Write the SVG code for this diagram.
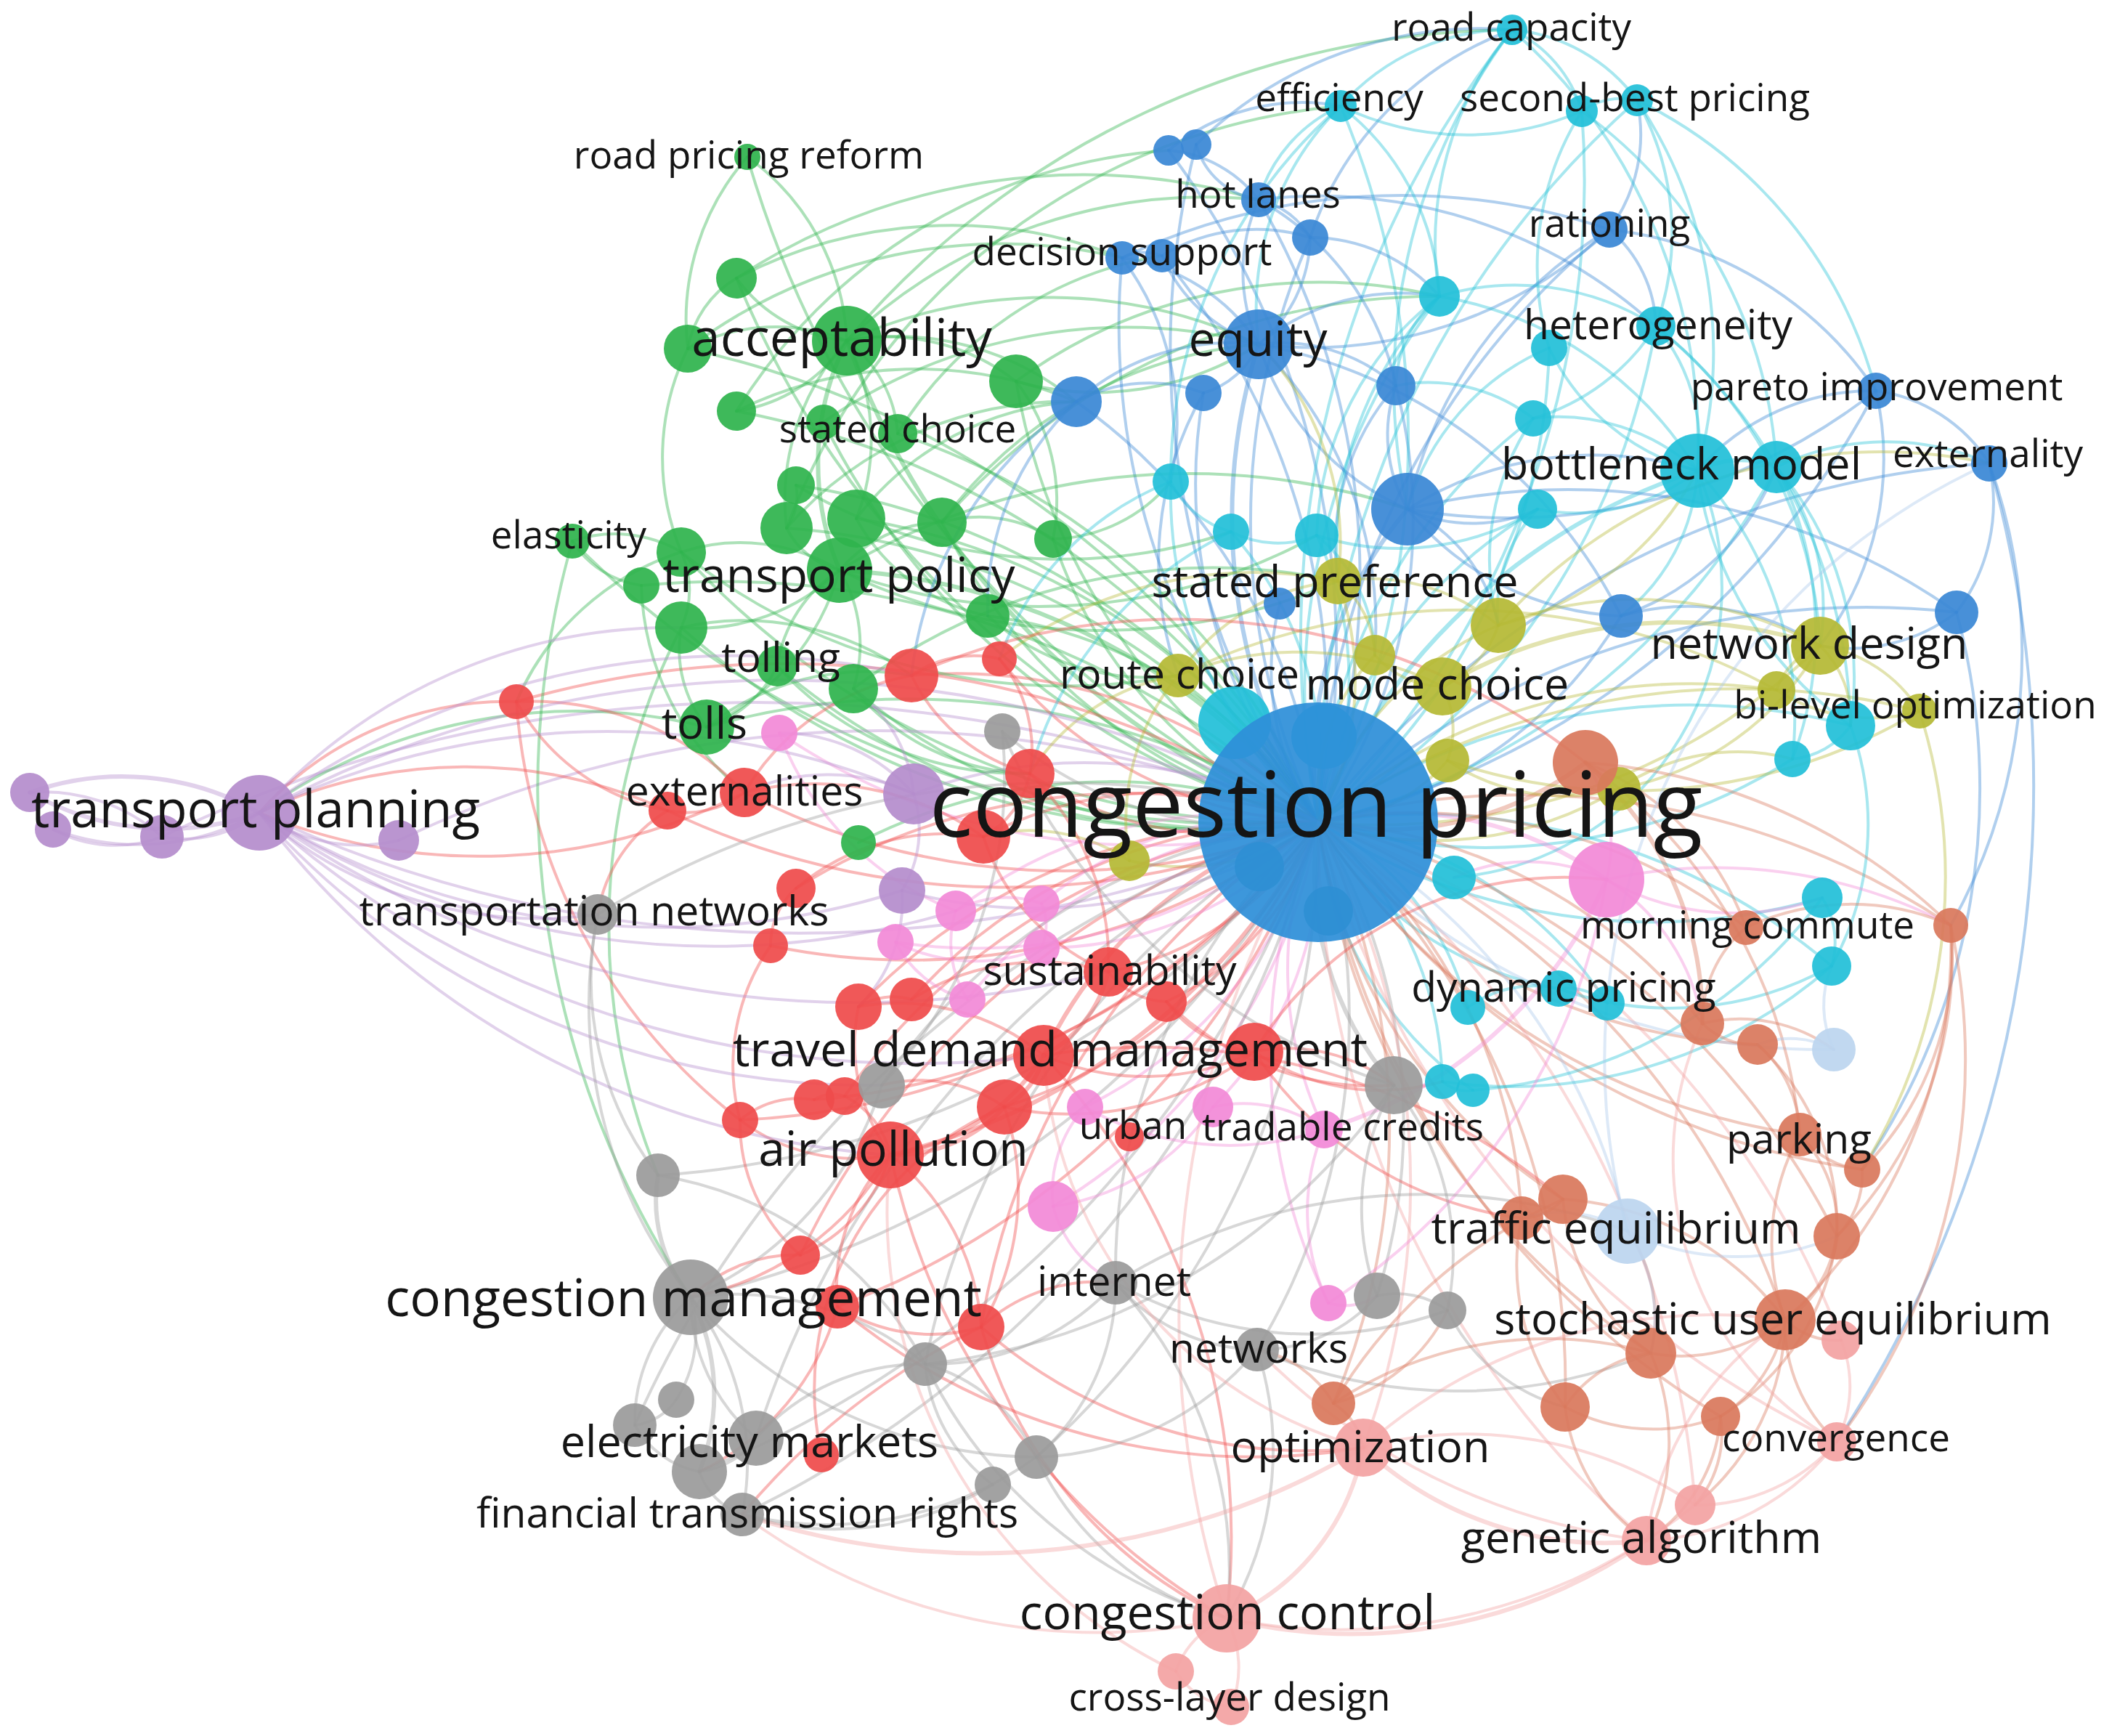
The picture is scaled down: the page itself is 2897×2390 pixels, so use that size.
<svg xmlns="http://www.w3.org/2000/svg" width="2897" height="2390" viewBox="0 0 2897 2390">
<style>
#edges path{fill:none;stroke-width:4;stroke-opacity:.4;stroke-linecap:round}
#edges path.w{stroke-width:6}
.eg{stroke:#2fb44d}.eb{stroke:#3a88d5}.ec{stroke:#25c2d8}.er{stroke:#ef4b4b}.ey{stroke:#b7ba36}.ep{stroke:#b58dcc}.ek{stroke:#f28ad7}.ea{stroke:#9b9b9b}.eo{stroke:#d9795d}.es{stroke:#f3a3a3}.el{stroke:#a9c8ea}
circle{fill-opacity:.93}
.c{fill:#22c0d8}.b{fill:#3a88d5}.g{fill:#2fb44d}.r{fill:#ef4b4b}.y{fill:#b5b935}.p{fill:#b58dcc}.k{fill:#f28ad7}.a{fill:#9b9b9b}.o{fill:#d9795d}.s{fill:#f3a3a3}.l{fill:#bcd5ef}.m{fill:#2e8fd8}.t{fill:#2a8f9a}
text{font-family:"Open Sans","Noto Sans","DejaVu Sans",sans-serif;fill:#151515;text-anchor:middle}
.t52{font-size:53px}.t57{font-size:57px}.t61{font-size:61px}.t66{font-size:66px}.t70{font-size:71px}.t125{font-size:125px}
</style>
<rect width="2897" height="2390" fill="#fff"/>
<g id="edges">
<!-- hub edges -->
<path class="eg w" d="M1815 1132A1110 1110 0 0 1 1166 469"/>
<path class="eg w" d="M1815 1132A890 890 0 0 0 1156 785"/>
<path class="eg" d="M1815 1132A1450 1450 0 0 1 1029 216"/>
<path class="eg" d="M1815 1132A1020 1020 0 0 0 973 1001"/>
<path class="eg" d="M1815 1132A880 880 0 0 1 1399 525"/>
<path class="eg" d="M1815 1132A910 910 0 0 0 1179 714"/>
<path class="eg" d="M1815 1132A930 930 0 0 1 1070 917"/>
<path class="eg" d="M1815 1132A1300 1300 0 0 0 947 480"/>
<path class="eg" d="M1815 1132A1320 1320 0 0 1 788 745"/>
<path class="eg" d="M1815 1132A640 640 0 0 0 1360 848"/>
<path class="eg" d="M1815 1132A790 790 0 0 1 1297 719"/>
<path class="eg" d="M1815 1132A640 640 0 0 1 1450 742"/>
<path class="eg" d="M1815 1132A950 950 0 0 0 1236 597"/>
<path class="eg" d="M1815 1132A1320 1320 0 0 1 1014 383"/>
<path class="eg" d="M1815 1132A800 800 0 0 1 1175 948"/>
<path class="eg" d="M1815 1132A1000 1000 0 0 0 1083 727"/>
<path class="eg" d="M1815 1132A1180 1180 0 0 0 1014 566"/>
<path class="eg" d="M1815 1132A1050 1050 0 0 1 1134 581"/>
<path class="eg" d="M1815 1132A1030 1030 0 0 0 1096 668"/>
<path class="eg" d="M1815 1132A1140 1140 0 0 1 938 760"/>
<path class="eg" d="M1815 1132A1180 1180 0 0 0 883 806"/>
<path class="eg" d="M1815 1132A1100 1100 0 0 1 938 864"/>
<path class="eg" d="M1815 1132A760 760 0 0 0 1182 1160"/>
<path class="eb w" d="M1815 1132A800 800 0 0 1 1733 474"/>
<path class="eb" d="M1815 1132A1030 1030 0 0 0 1733 275"/>
<path class="eb w" d="M1815 1132A540 540 0 0 1 1938 701"/>
<path class="eb" d="M1815 1132A800 800 0 0 0 1482 553"/>
<path class="eb" d="M1815 1132A1090 1090 0 0 1 2216 316"/>
<path class="eb" d="M1815 1132A1170 1170 0 0 0 2583 538"/>
<path class="eb" d="M1815 1132A1260 1260 0 0 1 2739 638"/>
<path class="eb" d="M1815 1132A600 600 0 0 0 2232 848"/>
<path class="eb" d="M1815 1132A1110 1110 0 0 1 2694 843"/>
<path class="eb" d="M1815 1132A990 990 0 0 1 1545 355"/>
<path class="eb" d="M1815 1132A1140 1140 0 0 0 1609 207"/>
<path class="eb" d="M1815 1132A730 730 0 0 0 1922 531"/>
<path class="eb" d="M1815 1132A970 970 0 0 1 1804 327"/>
<path class="eb" d="M1815 1132A730 730 0 0 1 1657 541"/>
<path class="eb" d="M1815 1132A1140 1140 0 0 1 1647 199"/>
<path class="eb" d="M1815 1132A970 970 0 0 0 1600 352"/>
<path class="eb" d="M1815 1132A370 370 0 0 1 1762 831"/>
<path class="ec w" d="M1815 1132A850 850 0 0 1 2337 648"/>
<path class="ec" d="M1815 1132A1350 1350 0 0 1 2082 41"/>
<path class="ec" d="M1815 1132A1180 1180 0 0 0 1846 146"/>
<path class="ec" d="M1815 1132A1250 1250 0 0 0 2178 153"/>
<path class="ec" d="M1815 1132A1300 1300 0 0 1 2254 138"/>
<path class="ec" d="M1815 1132A990 990 0 0 0 2280 449"/>
<path class="ec" d="M1815 1132A890 890 0 0 1 1982 408"/>
<path class="ec" d="M1815 1132A960 960 0 0 0 2446 643"/>
<path class="ec" d="M1815 1132A890 890 0 0 1 2548 999"/>
<path class="ec" d="M1815 1132A840 840 0 0 0 2509 1236"/>
<path class="ec" d="M1815 1132A880 880 0 0 1 2522 1330"/>
<path class="ec" d="M1815 1132A480 480 0 0 0 2146 1361"/>
<path class="ec" d="M1815 1132A790 790 0 0 0 2468 1045"/>
<path class="ec" d="M1815 1132A750 750 0 0 1 2111 576"/>
<path class="ec" d="M1815 1132A870 870 0 0 0 2133 479"/>
<path class="ec" d="M1815 1132A610 610 0 0 1 1612 663"/>
<path class="ec" d="M1815 1132A470 470 0 0 0 1813 737"/>
<path class="ec" d="M1815 1132A480 480 0 0 1 1986 1489"/>
<path class="ec" d="M1815 1132A630 630 0 0 1 2117 701"/>
<path class="ec" d="M1815 1132A560 560 0 0 1 2213 1381"/>
<path class="ec" d="M1815 1132A500 500 0 0 0 1695 732"/>
<path class="ec" d="M1815 1132A395 395 0 0 1 2021 1387"/>
<path class="ec" d="M1815 1132A510 510 0 0 0 2028 1501"/>
<path class="ey" d="M1815 1132A880 880 0 0 0 2506 889"/>
<path class="ey" d="M1815 1132A440 440 0 0 1 2063 861"/>
<path class="ey" d="M1815 1132A1010 1010 0 0 1 2643 979"/>
<path class="ey" d="M1815 1132A500 500 0 0 0 2229 1086"/>
<path class="ey" d="M1815 1132A790 790 0 0 1 2446 950"/>
<path class="ey" d="M1815 1132A400 400 0 0 0 1842 800"/>
<path class="ey" d="M1815 1132A290 290 0 0 1 1893 902"/>
<path class="ey" d="M1815 1132A240 240 0 0 0 1993 1047"/>
<path class="ey" d="M1815 1132A320 320 0 0 1 1555 1185"/>
<path class="er" d="M1815 1132A430 430 0 0 1 1526 1338"/>
<path class="er w" d="M1815 1132A600 600 0 0 0 1437 1453"/>
<path class="er w" d="M1815 1132A900 900 0 0 1 1226 1590"/>
<path class="er" d="M1815 1132A480 480 0 0 1 1418 1065"/>
<path class="er" d="M1815 1132A710 710 0 0 0 1255 930"/>
<path class="er" d="M1815 1132A700 700 0 0 1 1383 1524"/>
<path class="er" d="M1815 1132A1000 1000 0 0 0 1351 1827"/>
<path class="er" d="M1815 1132A950 950 0 0 1 1025 1091"/>
<path class="er" d="M1815 1132A1340 1340 0 0 0 711 966"/>
<path class="er" d="M1815 1132A590 590 0 0 1 1376 907"/>
<path class="er" d="M1815 1132A390 390 0 0 1 1606 1379"/>
<path class="er" d="M1815 1132A550 550 0 0 0 1354 1152"/>
<path class="er" d="M1815 1132A820 820 0 0 0 1182 1386"/>
<path class="er" d="M1815 1132A1080 1080 0 0 1 919 1116"/>
<path class="er" d="M1815 1132A870 870 0 0 0 1096 1223"/>
<path class="er" d="M1815 1132A930 930 0 0 1 1061 1302"/>
<path class="er" d="M1815 1132A730 730 0 0 0 1255 1376"/>
<path class="er" d="M1815 1132A950 950 0 0 1 1121 1514"/>
<path class="er" d="M1815 1132A900 900 0 0 0 1163 1509"/>
<path class="er" d="M1815 1132A1070 1070 0 0 1 1019 1542"/>
<path class="er" d="M1815 1132A1110 1110 0 0 0 1102 1728"/>
<path class="er" d="M1815 1132A1130 1130 0 0 1 1153 1799"/>
<path class="ep" d="M1815 1132A1750 1750 0 0 1 357 1119"/>
<path class="ep" d="M1815 1132A670 670 0 0 0 1258 1093"/>
<path class="ep" d="M1815 1132A700 700 0 0 1 1242 1226"/>
<path class="ep" d="M1815 1132A1520 1520 0 0 0 549 1157"/>
<path class="ep" d="M1815 1132A1900 1900 0 0 0 223 1152"/>
<path class="ek w" d="M1815 1132A490 490 0 0 1 2212 1211"/>
<path class="ek" d="M1815 1132A510 510 0 0 0 1823 1555"/>
<path class="ek" d="M1815 1132A770 770 0 0 1 1450 1661"/>
<path class="ek" d="M1815 1132A500 500 0 0 1 1670 1524"/>
<path class="ek" d="M1815 1132A620 620 0 0 0 1316 1254"/>
<path class="ek" d="M1815 1132A900 900 0 0 1 1073 1009"/>
<path class="ek" d="M1815 1132A480 480 0 0 0 1434 1244"/>
<path class="ek" d="M1815 1132A730 730 0 0 1 1233 1297"/>
<path class="ek" d="M1815 1132A500 500 0 0 1 1434 1305"/>
<path class="ek" d="M1815 1132A650 650 0 0 0 1332 1376"/>
<path class="ek" d="M1815 1132A610 610 0 0 1 1494 1524"/>
<path class="ek" d="M1815 1132A790 790 0 0 0 1829 1794"/>
<path class="ea" d="M1815 1132A1300 1300 0 0 1 951 1786"/>
<path class="ea w" d="M1815 1132A450 450 0 0 0 1919 1494"/>
<path class="ea" d="M1815 1132A830 830 0 0 0 1536 1766"/>
<path class="ea" d="M1815 1132A880 880 0 0 1 1731 1858"/>
<path class="ea" d="M1815 1132A1200 1200 0 0 0 823 1259"/>
<path class="ea" d="M1815 1132A790 790 0 0 1 1896 1784"/>
<path class="ea" d="M1815 1132A540 540 0 0 1 1380 1007"/>
<path class="ea" d="M1815 1132A840 840 0 0 0 1214 1494"/>
<path class="ea" d="M1815 1132A1240 1240 0 0 1 906 1618"/>
<path class="ea" d="M1815 1132A1100 1100 0 0 0 1274 1878"/>
<path class="ea" d="M1815 1132A1150 1150 0 0 1 1427 2006"/>
<path class="ea" d="M1815 1132A1500 1500 0 0 0 874 1962"/>
<path class="ea" d="M1815 1132A1490 1490 0 0 1 1022 2085"/>
<path class="ea" d="M1815 1132A1380 1380 0 0 0 1041 1980"/>
<path class="ea" d="M1815 1132A1480 1480 0 0 1 963 2026"/>
<path class="eo w" d="M1815 1132A450 450 0 0 0 2183 1050"/>
<path class="eo" d="M1815 1132A1130 1130 0 0 1 2458 1817"/>
<path class="eo" d="M1815 1132A950 950 0 0 0 2478 1562"/>
<path class="eo" d="M1815 1132A1100 1100 0 0 1 2529 1702"/>
<path class="eo" d="M1815 1132A1030 1030 0 0 0 2273 1863"/>
<path class="eo" d="M1815 1132A1060 1060 0 0 1 2686 1274"/>
<path class="eo" d="M1815 1132A740 740 0 0 0 2152 1651"/>
<path class="eo" d="M1815 1132A720 720 0 0 1 2344 1409"/>
<path class="eo" d="M1815 1132A1050 1050 0 0 1 2155 1937"/>
<path class="eo" d="M1815 1132A730 730 0 0 1 2404 1277"/>
<path class="eo" d="M1815 1132A810 810 0 0 0 2420 1438"/>
<path class="eo" d="M1815 1132A1070 1070 0 0 0 2564 1610"/>
<path class="eo" d="M1815 1132A740 740 0 0 1 2095 1677"/>
<path class="eo" d="M1815 1132A1180 1180 0 0 0 2369 1950"/>
<path class="eo" d="M1815 1132A960 960 0 0 1 1836 1932"/>
<path class="es" d="M1815 1132A1320 1320 0 0 0 1689 2228"/>
<path class="es" d="M1815 1132A1040 1040 0 0 1 1877 1993"/>
<path class="es" d="M1815 1132A1300 1300 0 0 0 2267 2121"/>
<path class="es" d="M1815 1132A1220 1220 0 0 1 2535 1845"/>
<path class="es" d="M1815 1132A1330 1330 0 0 0 2529 1985"/>
<path class="es" d="M1815 1132A1290 1290 0 0 1 2334 2072"/>
<path class="el" d="M1815 1132A850 850 0 0 1 2241 1695"/>
<path class="el" d="M1815 1132A930 930 0 0 0 2525 1445"/>
<!-- green -->
<path class="eg" d="M1166 469A210 210 0 0 1 1014 383"/>
<path class="eg" d="M1166 469A260 260 0 0 0 947 480"/>
<path class="eg" d="M1166 469A290 290 0 0 1 1399 525"/>
<path class="eg" d="M1166 469A220 220 0 0 1 1014 566"/>
<path class="eg" d="M1166 469A175 175 0 0 1 1236 597"/>
<path class="eg w" d="M1166 469A380 380 0 0 0 1156 785"/>
<path class="eg" d="M1166 469A295 295 0 0 1 1179 714"/>
<path class="eg" d="M1166 469A325 325 0 0 0 1083 727"/>
<path class="eg" d="M1156 785A110 110 0 0 1 1083 727"/>
<path class="eg" d="M1156 785A190 190 0 0 1 1297 719"/>
<path class="eg" d="M1156 785A265 265 0 0 0 938 760"/>
<path class="eg" d="M1156 785A280 280 0 0 1 938 864"/>
<path class="eg" d="M1156 785A190 190 0 0 0 1070 917"/>
<path class="eg" d="M1156 785A340 340 0 0 1 973 1001"/>
<path class="eg" d="M1156 785A200 200 0 0 1 1175 948"/>
<path class="eg" d="M947 480A340 340 0 0 0 938 760"/>
<path class="eg" d="M788 745A180 180 0 0 1 938 760"/>
<path class="eg" d="M788 745A135 135 0 0 0 883 806"/>
<path class="eg" d="M938 760A125 125 0 0 1 938 864"/>
<path class="eg" d="M938 864A170 170 0 0 0 973 1001"/>
<path class="eg" d="M1070 917A160 160 0 0 1 973 1001"/>
<path class="eg" d="M1029 216A330 330 0 0 1 1166 469"/>
<path class="eg" d="M1029 216A340 340 0 0 0 947 480"/>
<path class="eg" d="M1297 719A185 185 0 0 1 1450 742"/>
<path class="eg" d="M1179 714A270 270 0 0 0 1360 848"/>
<path class="eg" d="M1399 525A270 270 0 0 1 1450 742"/>
<path class="eg" d="M1014 383A140 140 0 0 0 947 480"/>
<path class="eg" d="M1096 668A75 75 0 0 1 1083 727"/>
<path class="eg" d="M1166 469A680 680 0 0 1 1733 474"/>
<path class="eg" d="M1399 525A410 410 0 0 0 1733 474"/>
<path class="eg" d="M1014 383A640 640 0 0 1 1545 355"/>
<path class="eg" d="M1166 469A720 720 0 0 1 1733 275"/>
<path class="eg" d="M1399 525A710 710 0 0 1 1982 408"/>
<path class="eg" d="M1156 785A940 940 0 0 1 1938 701"/>
<path class="eg" d="M1156 785A820 820 0 0 0 1842 800"/>
<path class="eg" d="M1166 469A390 390 0 0 1 1482 553"/>
<path class="eg" d="M938 864A900 900 0 0 0 906 1618"/>
<path class="eg" d="M788 745A1260 1260 0 0 0 951 1786"/>
<path class="eg" d="M973 1001A750 750 0 0 0 357 1119"/>
<path class="eg" d="M1166 469A1210 1210 0 0 1 2082 41"/>
<path class="eg" d="M947 480A720 720 0 0 1 1545 355"/>
<path class="eg" d="M938 760A370 370 0 0 0 711 966"/>
<path class="eg" d="M1014 566A760 760 0 0 1 1609 207"/>
<path class="eg" d="M1083 727A900 900 0 0 1 1846 146"/>
<path class="eg" d="M1179 714A410 410 0 0 1 1482 553"/>
<path class="eg" d="M1297 719A600 600 0 0 1 1733 474"/>
<path class="eg" d="M1450 742A215 215 0 0 0 1612 663"/>
<path class="eg" d="M1360 848A330 330 0 0 0 1622 930"/>
<path class="eg" d="M1175 948A820 820 0 0 1 1842 800"/>
<path class="eg" d="M1083 727A515 515 0 0 1 1482 553"/>
<path class="eg" d="M1236 597A525 525 0 0 1 1600 352"/>
<path class="eg" d="M1014 383A870 870 0 0 1 1733 275"/>
<path class="eg" d="M1096 668A720 720 0 0 0 1695 732"/>
<path class="eg" d="M1297 719A900 900 0 0 1 1982 408"/>
<path class="eg" d="M1156 785A790 790 0 0 0 1813 737"/>
<path class="eg" d="M938 760A850 850 0 0 0 1622 930"/>
<path class="eg" d="M938 864A390 390 0 0 1 1255 930"/>
<path class="eg" d="M1070 917A455 455 0 0 0 1418 1065"/>
<path class="eg" d="M973 1001A355 355 0 0 1 1255 930"/>
<path class="eg" d="M1175 948A325 325 0 0 0 1418 1065"/>
<path class="eg" d="M883 806A380 380 0 0 0 1025 1091"/>
<path class="eg" d="M1014 566A560 560 0 0 1 1482 553"/>
<path class="eg" d="M1134 581A730 730 0 0 1 1733 474"/>
<!-- blue -->
<path class="eb" d="M1733 474A240 240 0 0 1 1733 275"/>
<path class="eb" d="M1733 474A270 270 0 0 0 1545 355"/>
<path class="eb" d="M1733 474A220 220 0 0 1 1600 352"/>
<path class="eb" d="M1733 474A195 195 0 0 0 1804 327"/>
<path class="eb" d="M1733 474A120 120 0 0 1 1657 541"/>
<path class="eb" d="M1733 474A370 370 0 0 0 1938 701"/>
<path class="eb" d="M1733 474A240 240 0 0 1 1922 531"/>
<path class="eb" d="M1733 474A320 320 0 0 0 1482 553"/>
<path class="eb" d="M1609 207A175 175 0 0 1 1733 275"/>
<path class="eb" d="M1647 199A105 105 0 0 0 1733 275"/>
<path class="eb" d="M1733 275A110 110 0 0 1 1804 327"/>
<path class="eb" d="M1545 355A66 66 0 0 1 1600 352"/>
<path class="eb" d="M2216 316A600 600 0 0 0 1938 701"/>
<path class="eb" d="M2216 316A600 600 0 0 1 1733 474"/>
<path class="eb" d="M2583 538A820 820 0 0 1 1938 701"/>
<path class="eb" d="M2583 538A220 220 0 0 1 2739 638"/>
<path class="eb" d="M2739 638A250 250 0 0 1 2694 843"/>
<path class="eb" d="M2694 843A930 930 0 0 0 1938 701"/>
<path class="eb" d="M2232 848A400 400 0 0 1 1938 701"/>
<path class="eb" d="M1938 701A205 205 0 0 1 1922 531"/>
<path class="eb" d="M1938 701A480 480 0 0 1 2337 648"/>
<path class="eb" d="M2583 538A320 320 0 0 0 2337 648"/>
<path class="eb" d="M1609 207A290 290 0 0 1 1846 146"/>
<path class="eb" d="M2216 316A180 180 0 0 1 2280 449"/>
<path class="eb" d="M2739 638A770 770 0 0 1 2686 1274"/>
<path class="eb" d="M2739 638A1640 1640 0 0 1 2529 1985"/>
<path class="eb" d="M2694 843A930 930 0 0 1 2564 1610"/>
<path class="eb" d="M2583 538A510 510 0 0 0 2216 316"/>
<path class="eb" d="M1647 199A560 560 0 0 1 2082 41"/>
<path class="eb" d="M1804 327A460 460 0 0 1 2082 41"/>
<path class="eb" d="M1600 352A250 250 0 0 1 1804 327"/>
<path class="eb" d="M1482 553A210 210 0 0 1 1657 541"/>
<path class="eb" d="M2216 316A220 220 0 0 0 2254 138"/>
<path class="eb" d="M1733 275A690 690 0 0 1 2280 449"/>
<path class="eb" d="M2232 848A330 330 0 0 1 2506 889"/>
<path class="eb" d="M2694 843A240 240 0 0 1 2506 889"/>
<path class="eb" d="M1545 355A900 900 0 0 1 2216 316"/>
<path class="eb" d="M1733 474A700 700 0 0 1 2232 848"/>
<path class="eb" d="M1482 553A530 530 0 0 0 1255 930"/>
<path class="eb" d="M1657 541A470 470 0 0 0 1622 930"/>
<path class="eb" d="M1922 531A335 335 0 0 0 1842 800"/>
<path class="eb" d="M1804 327A235 235 0 0 1 1982 408"/>
<path class="eb" d="M1545 355A380 380 0 0 1 1612 663"/>
<path class="eb" d="M1482 553A385 385 0 0 0 1360 848"/>
<path class="eb" d="M1733 474A310 310 0 0 1 1982 408"/>
<path class="eb" d="M1733 275A380 380 0 0 1 1922 531"/>
<path class="eb" d="M1733 474A550 550 0 0 1 1893 902"/>
<path class="eb" d="M1938 701A225 225 0 0 1 2063 861"/>
<path class="eb" d="M2232 848A345 345 0 0 0 2446 643"/>
<path class="eb" d="M2583 538A420 420 0 0 1 2506 889"/>
<path class="eb" d="M1938 701A215 215 0 0 0 2117 701"/>
<!-- cyan -->
<path class="ec" d="M2082 41A310 310 0 0 0 1846 146"/>
<path class="ec" d="M2082 41A180 180 0 0 1 2178 153"/>
<path class="ec" d="M2082 41A240 240 0 0 1 2254 138"/>
<path class="ec" d="M2178 153A95 95 0 0 1 2254 138"/>
<path class="ec" d="M1846 146A400 400 0 0 0 2178 153"/>
<path class="ec" d="M2082 41A460 460 0 0 0 1982 408"/>
<path class="ec" d="M2254 138A375 375 0 0 1 2280 449"/>
<path class="ec" d="M2254 138A620 620 0 0 1 2337 648"/>
<path class="ec" d="M2178 153A400 400 0 0 0 2133 479"/>
<path class="ec" d="M1982 408A360 360 0 0 1 2280 449"/>
<path class="ec" d="M2280 449A250 250 0 0 1 2337 648"/>
<path class="ec" d="M2133 479A315 315 0 0 0 2337 648"/>
<path class="ec" d="M2111 576A285 285 0 0 1 2337 648"/>
<path class="ec w" d="M2337 648A130 130 0 0 1 2446 643"/>
<path class="ec" d="M2337 648A270 270 0 0 1 2117 701"/>
<path class="ec" d="M2446 643A445 445 0 0 1 2548 999"/>
<path class="ec" d="M2337 648A510 510 0 0 0 2548 999"/>
<path class="ec" d="M2548 999A110 110 0 0 1 2468 1045"/>
<path class="ec" d="M2548 999A400 400 0 0 1 2522 1330"/>
<path class="ec" d="M2509 1236A115 115 0 0 1 2522 1330"/>
<path class="ec" d="M1813 737A430 430 0 0 1 1982 408"/>
<path class="ec" d="M1612 663A130 130 0 0 0 1695 732"/>
<path class="ec" d="M1695 732A140 140 0 0 0 1813 737"/>
<path class="ec" d="M2117 701A365 365 0 0 1 1813 737"/>
<path class="ec" d="M2021 1387A155 155 0 0 1 2146 1361"/>
<path class="ec" d="M2146 1361A85 85 0 0 1 2213 1381"/>
<path class="ec" d="M1986 1489A53 53 0 0 0 2028 1501"/>
<path class="ec" d="M2082 41A810 810 0 0 0 1938 701"/>
<path class="ec" d="M1846 146A390 390 0 0 0 1733 474"/>
<path class="ec" d="M2254 138A620 620 0 0 1 2583 538"/>
<path class="ec" d="M2082 41A760 760 0 0 1 2337 648"/>
<path class="ec" d="M2178 153A650 650 0 0 1 2446 643"/>
<path class="ec" d="M1846 146A680 680 0 0 0 1612 663"/>
<path class="ec" d="M1846 146A350 350 0 0 1 1982 408"/>
<path class="ec" d="M2522 1330A670 670 0 0 1 1986 1489"/>
<path class="ec" d="M2446 643A500 500 0 0 1 2468 1045"/>
<path class="ec" d="M2337 648A500 500 0 0 1 2468 1045"/>
<path class="ec" d="M2280 449A730 730 0 0 1 2548 999"/>
<path class="ec" d="M1982 408A515 515 0 0 1 2337 648"/>
<path class="ec" d="M2446 643A350 350 0 0 1 2739 638"/>
<path class="ec" d="M1846 146A205 205 0 0 0 1733 275"/>
<path class="ec" d="M1982 408A165 165 0 0 0 1922 531"/>
<path class="ec" d="M2509 1236A660 660 0 0 1 2028 1501"/>
<path class="ec" d="M2522 1330A455 455 0 0 1 2146 1361"/>
<path class="ec" d="M2002 1208A400 400 0 0 0 2337 648"/>
<path class="ec" d="M2111 576A300 300 0 0 0 2280 449"/>
<path class="ec" d="M1612 663A410 410 0 0 0 1376 907"/>
<path class="ec" d="M1695 732A520 520 0 0 0 1418 1065"/>
<path class="ec" d="M1813 737A220 220 0 0 1 1893 902"/>
<path class="ec" d="M2117 701A200 200 0 0 0 2063 861"/>
<path class="ec" d="M2111 576A235 235 0 0 0 1922 531"/>
<path class="ec" d="M2133 479A340 340 0 0 0 1938 701"/>
<path class="ec" d="M1982 408A500 500 0 0 0 1842 800"/>
<path class="ec" d="M2280 449A595 595 0 0 1 2506 889"/>
<path class="ec" d="M2446 643A320 320 0 0 1 2506 889"/>
<path class="ec" d="M2337 648A270 270 0 0 1 2232 848"/>
<path class="ec" d="M2111 576A345 345 0 0 0 2063 861"/>
<!-- yellow -->
<path class="ey" d="M1842 800A300 300 0 0 0 1622 930"/>
<path class="ey" d="M1842 800A135 135 0 0 1 1893 902"/>
<path class="ey" d="M1893 902A125 125 0 0 0 1986 945"/>
<path class="ey" d="M2063 861A140 140 0 0 1 1986 945"/>
<path class="ey w" d="M1986 945A630 630 0 0 1 2506 889"/>
<path class="ey" d="M2506 889A100 100 0 0 0 2446 950"/>
<path class="ey" d="M2506 889A195 195 0 0 1 2643 979"/>
<path class="ey" d="M2063 861A530 530 0 0 1 2506 889"/>
<path class="ey" d="M1993 1047A290 290 0 0 0 2229 1086"/>
<path class="ey" d="M1622 930A315 315 0 0 0 1555 1185"/>
<path class="ey" d="M1986 945A125 125 0 0 1 1993 1047"/>
<path class="ey" d="M2506 889A405 405 0 0 1 2229 1086"/>
<path class="ey" d="M1842 800A275 275 0 0 1 2063 861"/>
<path class="ey" d="M2446 950A240 240 0 0 0 2643 979"/>
<path class="ey" d="M2506 889A140 140 0 0 1 2548 999"/>
<path class="ey" d="M1622 930A440 440 0 0 1 1986 945"/>
<path class="ey" d="M1842 800A390 390 0 0 0 1733 474"/>
<path class="ey" d="M2063 861A415 415 0 0 0 2337 648"/>
<path class="ey" d="M2643 979A760 760 0 0 1 2564 1610"/>
<path class="ey" d="M2229 1086A290 290 0 0 1 2468 1045"/>
<path class="ey" d="M1993 1047A780 780 0 0 0 2643 979"/>
<path class="ey" d="M2063 861A700 700 0 0 1 2739 638"/>
<path class="ey" d="M1622 930A900 900 0 0 1 2446 950"/>
<path class="ey" d="M1622 930A295 295 0 0 0 1418 1065"/>
<path class="ey" d="M1842 800A575 575 0 0 0 1376 907"/>
<path class="ey" d="M1555 1185A245 245 0 0 0 1354 1152"/>
<!-- red -->
<path class="er" d="M1255 930A150 150 0 0 1 1376 907"/>
<path class="er" d="M1255 930A255 255 0 0 0 1418 1065"/>
<path class="er" d="M1025 1091A130 130 0 0 1 919 1116"/>
<path class="er" d="M1025 1091A405 405 0 0 0 711 966"/>
<path class="er" d="M1418 1065A130 130 0 0 1 1354 1152"/>
<path class="er" d="M1354 1152A305 305 0 0 0 1526 1338"/>
<path class="er w" d="M1526 1338A175 175 0 0 1 1437 1453"/>
<path class="er w" d="M1437 1453A105 105 0 0 1 1383 1524"/>
<path class="er" d="M1437 1453A350 350 0 0 0 1727 1448"/>
<path class="er" d="M1182 1386A90 90 0 0 1 1255 1376"/>
<path class="er" d="M1121 1514A50 50 0 0 1 1163 1509"/>
<path class="er" d="M1121 1514A125 125 0 0 0 1019 1542"/>
<path class="er w" d="M1383 1524A205 205 0 0 1 1226 1590"/>
<path class="er" d="M1226 1590A120 120 0 0 0 1163 1509"/>
<path class="er" d="M1226 1590A220 220 0 0 1 1102 1728"/>
<path class="er" d="M1226 1590A265 265 0 0 0 1153 1799"/>
<path class="er" d="M1153 1799A240 240 0 0 0 1351 1827"/>
<path class="er" d="M1351 1827A330 330 0 0 0 1226 1590"/>
<path class="er" d="M1606 1379A170 170 0 0 0 1727 1448"/>
<path class="er" d="M1526 1338A105 105 0 0 0 1606 1379"/>
<path class="er" d="M1096 1223A105 105 0 0 0 1061 1302"/>
<path class="er" d="M1061 1302A290 290 0 0 0 1019 1542"/>
<path class="er" d="M711 966A300 300 0 0 0 919 1116"/>
<path class="er" d="M711 966A460 460 0 0 0 357 1119"/>
<path class="er" d="M919 1116A670 670 0 0 0 357 1119"/>
<path class="er" d="M1025 1091A800 800 0 0 1 357 1119"/>
<path class="er" d="M1437 1453A980 980 0 0 1 1689 2228"/>
<path class="er" d="M1226 1590A980 980 0 0 0 1689 2228"/>
<path class="er" d="M1351 1827A630 630 0 0 0 1689 2228"/>
<path class="er" d="M1153 1799A900 900 0 0 0 1877 1993"/>
<path class="er" d="M1437 1453A315 315 0 0 0 1182 1386"/>
<path class="er w" d="M1437 1453A300 300 0 0 1 1226 1590"/>
<path class="er" d="M1383 1524A420 420 0 0 0 1727 1448"/>
<path class="er" d="M1182 1386A260 260 0 0 0 1226 1590"/>
<path class="er" d="M1354 1152A405 405 0 0 0 1025 1091"/>
<path class="er" d="M1255 930A340 340 0 0 0 1025 1091"/>
<path class="er" d="M1418 1065A360 360 0 0 1 1526 1338"/>
<path class="er" d="M1376 907A195 195 0 0 1 1418 1065"/>
<path class="er" d="M1226 1590A405 405 0 0 1 951 1786"/>
<path class="er" d="M1102 1728A205 205 0 0 0 951 1786"/>
<path class="er" d="M1351 1827A235 235 0 0 1 1536 1766"/>
<path class="er" d="M1727 1448A520 520 0 0 0 2095 1677"/>
<path class="er" d="M1437 1453A890 890 0 0 1 2152 1651"/>
<path class="er" d="M1526 1338A330 330 0 0 0 1255 1376"/>
<path class="er" d="M1383 1524A365 365 0 0 1 1351 1827"/>
<path class="er" d="M1153 1799A355 355 0 0 1 963 2026"/>
<path class="er" d="M1226 1590A260 260 0 0 1 1019 1542"/>
<path class="er" d="M1351 1827A680 680 0 0 0 1877 1993"/>
<path class="er" d="M1727 1448A235 235 0 0 1 1919 1494"/>
<path class="er" d="M919 1116A205 205 0 0 0 823 1259"/>
<path class="er" d="M1019 1542A240 240 0 0 0 1102 1728"/>
<path class="er" d="M1354 1152A320 320 0 0 0 1096 1223"/>
<path class="er" d="M1383 1524A205 205 0 0 0 1214 1494"/>
<path class="er" d="M1351 1827A1000 1000 0 0 0 1022 2085"/>
<path class="er" d="M1255 930A900 900 0 0 1 2183 1050"/>
<path class="er" d="M711 966A800 800 0 0 0 1019 1542"/>
<path class="er" d="M1131 2003A420 420 0 0 1 1383 1524"/>
<path class="er" d="M1727 1448A500 500 0 0 1 2212 1211"/>
<path class="er" d="M1606 1379A405 405 0 0 0 1919 1494"/>
<path class="er" d="M1727 1448A310 310 0 0 0 1986 1489"/>
<!-- purple -->
<path class="ep w" d="M357 1119A380 380 0 0 0 41 1091"/>
<path class="ep w" d="M357 1119A380 380 0 0 1 41 1091"/>
<path class="ep" d="M357 1119A340 340 0 0 1 73 1142"/>
<path class="ep" d="M357 1119A165 165 0 0 1 223 1152"/>
<path class="ep" d="M41 1091A245 245 0 0 1 223 1152"/>
<path class="ep" d="M73 1142A180 180 0 0 0 223 1152"/>
<path class="ep" d="M357 1119A235 235 0 0 0 549 1157"/>
<path class="ep" d="M357 1119A1080 1080 0 0 1 1258 1093"/>
<path class="ep" d="M357 1119A1070 1070 0 0 0 1242 1226"/>
<path class="ep" d="M357 1119A1430 1430 0 0 0 1526 1338"/>
<path class="ep" d="M357 1119A1360 1360 0 0 0 1437 1453"/>
<path class="ep" d="M357 1119A1100 1100 0 0 1 1255 930"/>
<path class="ep" d="M357 1119A585 585 0 0 0 823 1259"/>
<path class="ep" d="M357 1119A760 760 0 0 1 938 864"/>
<path class="ep" d="M357 1119A1190 1190 0 0 0 1226 1590"/>
<path class="ep" d="M1258 1093A160 160 0 0 1 1242 1226"/>
<path class="ep" d="M1258 1093A245 245 0 0 0 1073 1009"/>
<path class="ep" d="M357 1119A1160 1160 0 0 0 1316 1254"/>
<path class="ep" d="M357 1119A1120 1120 0 0 0 1214 1494"/>
<path class="ep" d="M1258 1093A280 280 0 0 0 1025 1091"/>
<path class="ep" d="M357 1119A1500 1500 0 0 1 1815 1132"/>
<path class="ep" d="M1258 1093A200 200 0 0 0 1175 948"/>
<path class="ep" d="M1242 1226A205 205 0 0 1 1182 1386"/>
<!-- pink -->
<path class="ek w" d="M2212 1211A620 620 0 0 1 1823 1555"/>
<path class="ek" d="M2212 1211A195 195 0 0 0 2183 1050"/>
<path class="ek" d="M1823 1555A190 190 0 0 0 1670 1524"/>
<path class="ek" d="M1450 1661A175 175 0 0 1 1494 1524"/>
<path class="ek" d="M1316 1254A140 140 0 0 1 1434 1244"/>
<path class="ek" d="M1233 1297A240 240 0 0 0 1434 1305"/>
<path class="ek" d="M1332 1376A145 145 0 0 1 1316 1254"/>
<path class="ek" d="M1829 1794A290 290 0 0 1 1823 1555"/>
<path class="ek" d="M1829 1794A80 80 0 0 0 1896 1784"/>
<path class="ek" d="M1073 1009A420 420 0 0 0 1316 1254"/>
<path class="ek" d="M2212 1211A250 250 0 0 0 2002 1208"/>
<path class="ek" d="M2212 1211A285 285 0 0 1 2344 1409"/>
<path class="ek" d="M1450 1661A320 320 0 0 0 1670 1524"/>
<path class="ek" d="M1823 1555A400 400 0 0 1 1494 1524"/>
<path class="ek" d="M2212 1211A860 860 0 0 1 1829 1794"/>
<path class="ek" d="M1450 1661A165 165 0 0 0 1536 1766"/>
<path class="ek" d="M1434 1244A75 75 0 0 1 1434 1305"/>
<path class="ek" d="M1233 1297A155 155 0 0 0 1332 1376"/>
<path class="ek" d="M2212 1211A360 360 0 0 0 2509 1236"/>
<path class="ek" d="M2212 1211A700 700 0 0 1 2686 1274"/>
<!-- gray -->
<path class="ea w" d="M951 1786A210 210 0 0 1 906 1618"/>
<path class="ea" d="M951 1786A170 170 0 0 1 931 1927"/>
<path class="ea" d="M951 1786A230 230 0 0 0 874 1962"/>
<path class="ea w" d="M951 1786A290 290 0 0 1 963 2026"/>
<path class="ea" d="M951 1786A255 255 0 0 0 1041 1980"/>
<path class="ea" d="M951 1786A370 370 0 0 1 1022 2085"/>
<path class="ea" d="M1041 1980A110 110 0 0 1 963 2026"/>
<path class="ea" d="M963 2026A95 95 0 0 0 1022 2085"/>
<path class="ea" d="M1041 1980A305 305 0 0 1 1274 1878"/>
<path class="ea" d="M1274 1878A230 230 0 0 0 1367 2044"/>
<path class="ea" d="M1274 1878A240 240 0 0 1 1427 2006"/>
<path class="ea" d="M1427 2006A315 315 0 0 0 1536 1766"/>
<path class="ea" d="M1536 1766A260 260 0 0 0 1731 1858"/>
<path class="ea" d="M1731 1858A215 215 0 0 0 1896 1784"/>
<path class="ea" d="M1896 1784A120 120 0 0 1 1993 1804"/>
<path class="ea" d="M1367 2044A415 415 0 0 1 1022 2085"/>
<path class="ea" d="M951 1786A410 410 0 0 1 1274 1878"/>
<path class="ea" d="M906 1618A440 440 0 0 1 823 1259"/>
<path class="ea" d="M951 1786A470 470 0 0 0 1214 1494"/>
<path class="ea" d="M1214 1494A620 620 0 0 0 1380 1007"/>
<path class="ea" d="M823 1259A650 650 0 0 0 951 1786"/>
<path class="ea" d="M1536 1766A550 550 0 0 0 1993 1804"/>
<path class="ea" d="M1919 1494A375 375 0 0 1 1993 1804"/>
<path class="ea" d="M1427 2006A410 410 0 0 0 1731 1858"/>
<path class="ea" d="M931 1927A80 80 0 0 1 874 1962"/>
<path class="ea" d="M874 1962A130 130 0 0 0 963 2026"/>
<path class="ea" d="M1536 1766A340 340 0 0 1 1274 1878"/>
<path class="ea" d="M1731 1858A450 450 0 0 1 1689 2228"/>
<path class="ea" d="M1536 1766A580 580 0 0 1 1689 2228"/>
<path class="ea" d="M1274 1878A670 670 0 0 0 1689 2228"/>
<path class="ea" d="M1427 2006A410 410 0 0 0 1689 2228"/>
<path class="ea" d="M906 1618A510 510 0 0 1 1274 1878"/>
<path class="ea" d="M951 1786A640 640 0 0 0 1427 2006"/>
<path class="ea" d="M1022 2085A495 495 0 0 0 1427 2006"/>
<path class="ea" d="M1993 1804A250 250 0 0 0 2155 1937"/>
<path class="ea" d="M1896 1784A350 350 0 0 1 1919 1494"/>
<path class="ea" d="M1380 1007A870 870 0 0 0 1919 1494"/>
<path class="ea" d="M1536 1766A800 800 0 0 1 2241 1695"/>
<path class="ea" d="M1919 1494A900 900 0 0 1 1274 1878"/>
<path class="ea" d="M1731 1858A700 700 0 0 0 2273 1863"/>
<!-- brown -->
<path class="eo w" d="M2183 1050A470 470 0 0 1 2344 1409"/>
<path class="eo" d="M2344 1409A100 100 0 0 0 2420 1438"/>
<path class="eo" d="M2420 1438A165 165 0 0 1 2478 1562"/>
<path class="eo" d="M2478 1562A120 120 0 0 0 2564 1610"/>
<path class="eo" d="M2478 1562A180 180 0 0 1 2529 1702"/>
<path class="eo" d="M2564 1610A120 120 0 0 1 2529 1702"/>
<path class="eo" d="M2152 1651A75 75 0 0 1 2095 1677"/>
<path class="eo" d="M2152 1651A290 290 0 0 0 2273 1863"/>
<path class="eo w" d="M2529 1702A160 160 0 0 1 2458 1817"/>
<path class="eo" d="M2458 1817A230 230 0 0 1 2273 1863"/>
<path class="eo" d="M2273 1863A165 165 0 0 0 2155 1937"/>
<path class="eo" d="M2155 1937A255 255 0 0 0 2369 1950"/>
<path class="eo" d="M2458 1817A195 195 0 0 1 2369 1950"/>
<path class="eo" d="M2458 1817A100 100 0 0 0 2535 1845"/>
<path class="eo" d="M2686 1274A540 540 0 0 1 2529 1702"/>
<path class="eo" d="M2686 1274A420 420 0 0 1 2564 1610"/>
<path class="eo" d="M2404 1277A170 170 0 0 0 2344 1409"/>
<path class="eo" d="M1836 1932A155 155 0 0 0 1731 1858"/>
<path class="eo" d="M1836 1932A90 90 0 0 1 1877 1993"/>
<path class="eo" d="M2155 1937A260 260 0 0 0 2267 2121"/>
<path class="eo" d="M2369 1950A150 150 0 0 1 2334 2072"/>
<path class="eo" d="M2458 1817A220 220 0 0 0 2529 1985"/>
<path class="eo" d="M2273 1863A205 205 0 0 0 2241 1695"/>
<path class="eo" d="M2344 1409A220 220 0 0 1 2525 1445"/>
<path class="eo" d="M2478 1562A310 310 0 0 0 2458 1817"/>
<path class="eo" d="M2420 1438A340 340 0 0 1 2529 1702"/>
<path class="eo" d="M2095 1677A320 320 0 0 0 2155 1937"/>
<path class="eo" d="M2686 1274A870 870 0 0 1 2529 1985"/>
<path class="eo" d="M2404 1277A340 340 0 0 1 2686 1274"/>
<path class="eo" d="M2183 1050A380 380 0 0 1 2404 1277"/>
<path class="eo" d="M2529 1702A340 340 0 0 1 2369 1950"/>
<path class="eo" d="M2152 1651A415 415 0 0 1 2458 1817"/>
<path class="eo" d="M1836 1932A530 530 0 0 1 2273 1863"/>
<path class="eo" d="M1836 1932A240 240 0 0 0 1993 1804"/>
<path class="eo" d="M2273 1863A310 310 0 0 1 2267 2121"/>
<path class="eo" d="M2369 1950A220 220 0 0 1 2267 2121"/>
<path class="eo" d="M2334 2072A335 335 0 0 0 2458 1817"/>
<path class="eo" d="M2686 1274A700 700 0 0 1 2458 1817"/>
<path class="eo" d="M2183 1050A700 700 0 0 1 2478 1562"/>
<path class="eo" d="M2686 1274A800 800 0 0 0 2183 1050"/>
<path class="eo" d="M2152 1651A700 700 0 0 0 1836 1932"/>
<!-- salmon -->
<path class="es" d="M1689 2228A120 120 0 0 0 1619 2301"/>
<path class="es" d="M1689 2228A145 145 0 0 1 1695 2350"/>
<path class="es" d="M1619 2301A105 105 0 0 0 1695 2350"/>
<path class="es w" d="M1877 1993A320 320 0 0 1 1689 2228"/>
<path class="es w" d="M1689 2228A705 705 0 0 0 2267 2121"/>
<path class="es w" d="M1877 1993A490 490 0 0 0 2267 2121"/>
<path class="es" d="M2334 2072A255 255 0 0 0 2529 1985"/>
<path class="es" d="M2267 2121A350 350 0 0 0 2529 1985"/>
<path class="es" d="M1877 1993A555 555 0 0 1 2334 2072"/>
<path class="es" d="M1689 2228A785 785 0 0 0 2334 2072"/>
<path class="es" d="M2529 1985A170 170 0 0 0 2535 1845"/>
<path class="es" d="M1877 1993A725 725 0 0 1 2458 1817"/>
<path class="es" d="M2267 2121A430 430 0 0 1 2458 1817"/>
<path class="es w" d="M1877 1993A1030 1030 0 0 1 1022 2085"/>
<path class="es" d="M1689 2228A820 820 0 0 1 1022 2085"/>
<path class="es" d="M1877 1993A600 600 0 0 1 1437 1453"/>
<path class="es" d="M2267 2121A900 900 0 0 1 1731 1858"/>
<path class="es" d="M2529 1985A450 450 0 0 1 2344 1409"/>
<path class="es" d="M1619 2301A700 700 0 0 1 1226 1590"/>
<!-- light blue -->
<path class="el" d="M2241 1695A180 180 0 0 0 2095 1677"/>
<path class="el" d="M2241 1695A210 210 0 0 1 2273 1863"/>
<path class="el" d="M2525 1445A125 125 0 0 0 2420 1438"/>
<path class="el" d="M2525 1445A140 140 0 0 1 2522 1330"/>
<path class="el" d="M2241 1695A345 345 0 0 0 2529 1702"/>
<path class="el" d="M2241 1695A900 900 0 0 1 2739 638"/>
</g>
<!-- unlabeled nodes -->
<g id="n-c3"><circle class="c" cx="2178" cy="153" r="22"/></g>
<g id="n-c5"><circle class="c" cx="1982" cy="408" r="28"/></g>
<g id="n-c7"><circle class="c" cx="2133" cy="479" r="25"/></g>
<g id="n-c8"><circle class="c" cx="2111" cy="576" r="25"/></g>
<g id="n-c10"><circle class="c" cx="2446" cy="643" r="36"/></g>
<g id="n-c11"><circle class="c" cx="2117" cy="701" r="27"/></g>
<g id="n-c12"><circle class="c" cx="1612" cy="663" r="25"/></g>
<g id="n-c13"><circle class="c" cx="1695" cy="732" r="25"/></g>
<g id="n-c14"><circle class="c" cx="1813" cy="737" r="30"/></g>
<g id="n-c15"><circle class="c" cx="2548" cy="999" r="34"/></g>
<g id="n-c16"><circle class="c" cx="2468" cy="1045" r="25"/></g>
<g id="n-c17"><circle class="c" cx="2002" cy="1208" r="30"/></g>
<g id="n-c18"><circle class="c" cx="2509" cy="1236" r="28"/></g>
<g id="n-c19"><circle class="c" cx="2522" cy="1330" r="27"/></g>
<g id="n-c20"><circle class="c" cx="2021" cy="1387" r="24"/></g>
<g id="n-c22"><circle class="c" cx="2213" cy="1381" r="24"/></g>
<g id="n-c23"><circle class="c" cx="1986" cy="1489" r="24"/></g>
<g id="n-c24"><circle class="c" cx="2028" cy="1501" r="23"/></g>
<g id="n-b1"><circle class="b" cx="1609" cy="207" r="21"/></g>
<g id="n-b2"><circle class="b" cx="1647" cy="199" r="21"/></g>
<g id="n-b4"><circle class="b" cx="1804" cy="327" r="25"/></g>
<g id="n-b6"><circle class="b" cx="1600" cy="352" r="23"/></g>
<g id="n-b8"><circle class="b" cx="1657" cy="541" r="25"/></g>
<g id="n-b9"><circle class="b" cx="1482" cy="553" r="35"/></g>
<g id="n-b10"><circle class="b" cx="1922" cy="531" r="27"/></g>
<g id="n-b14"><circle class="b" cx="1938" cy="701" r="50"/></g>
<g id="n-b15"><circle class="b" cx="1762" cy="831" r="22"/></g>
<g id="n-b16"><circle class="b" cx="2232" cy="848" r="30"/></g>
<g id="n-b17"><circle class="b" cx="2694" cy="843" r="30"/></g>
<g id="n-g2"><circle class="g" cx="1014" cy="383" r="28"/></g>
<g id="n-g3"><circle class="g" cx="947" cy="480" r="33"/></g>
<g id="n-g5"><circle class="g" cx="1399" cy="525" r="37"/></g>
<g id="n-g6"><circle class="g" cx="1014" cy="566" r="27"/></g>
<g id="n-g7"><circle class="g" cx="1134" cy="581" r="24"/></g>
<g id="n-g9"><circle class="g" cx="1096" cy="668" r="26"/></g>
<g id="n-g10"><circle class="g" cx="1083" cy="727" r="36"/></g>
<g id="n-g11"><circle class="g" cx="1179" cy="714" r="40"/></g>
<g id="n-g12"><circle class="g" cx="1297" cy="719" r="34"/></g>
<g id="n-g13"><circle class="g" cx="1450" cy="742" r="26"/></g>
<g id="n-g15"><circle class="g" cx="938" cy="760" r="34"/></g>
<g id="n-g16"><circle class="g" cx="883" cy="806" r="25"/></g>
<g id="n-g18"><circle class="g" cx="938" cy="864" r="36"/></g>
<g id="n-g19"><circle class="g" cx="1360" cy="848" r="30"/></g>
<g id="n-g21"><circle class="g" cx="1175" cy="948" r="34"/></g>
<g id="n-g23"><circle class="g" cx="1182" cy="1160" r="24"/></g>
<g id="n-r1"><circle class="r" cx="711" cy="966" r="24"/></g>
<g id="n-r2"><circle class="r" cx="1376" cy="907" r="24"/></g>
<g id="n-r3"><circle class="r" cx="1255" cy="930" r="37"/></g>
<g id="n-r4"><circle class="r" cx="919" cy="1116" r="26"/></g>
<g id="n-r6"><circle class="r" cx="1418" cy="1065" r="34"/></g>
<g id="n-r7"><circle class="r" cx="1354" cy="1152" r="37"/></g>
<g id="n-r8"><circle class="r" cx="1096" cy="1223" r="27"/></g>
<g id="n-r9"><circle class="r" cx="1061" cy="1302" r="24"/></g>
<g id="n-r11"><circle class="r" cx="1182" cy="1386" r="32"/></g>
<g id="n-r12"><circle class="r" cx="1255" cy="1376" r="30"/></g>
<g id="n-r13"><circle class="r" cx="1606" cy="1379" r="28"/></g>
<g id="n-r15"><circle class="r" cx="1727" cy="1448" r="40"/></g>
<g id="n-r16"><circle class="r" cx="1121" cy="1514" r="28"/></g>
<g id="n-r17"><circle class="r" cx="1163" cy="1509" r="26"/></g>
<g id="n-r18"><circle class="r" cx="1383" cy="1524" r="38"/></g>
<g id="n-r19"><circle class="r" cx="1019" cy="1542" r="25"/></g>
<g id="n-r22"><circle class="r" cx="1102" cy="1728" r="27"/></g>
<g id="n-r23"><circle class="r" cx="1153" cy="1799" r="30"/></g>
<g id="n-r24"><circle class="r" cx="1351" cy="1827" r="32"/></g>
<g id="n-r25"><circle class="r" cx="1131" cy="2003" r="24"/></g>
<g id="n-p1"><circle class="p" cx="41" cy="1091" r="27"/></g>
<g id="n-p2"><circle class="p" cx="73" cy="1142" r="25"/></g>
<g id="n-p3"><circle class="p" cx="223" cy="1152" r="30"/></g>
<g id="n-p5"><circle class="p" cx="549" cy="1157" r="28"/></g>
<g id="n-p6"><circle class="p" cx="1258" cy="1093" r="42"/></g>
<g id="n-p7"><circle class="p" cx="1242" cy="1226" r="32"/></g>
<g id="n-k1"><circle class="k" cx="1073" cy="1009" r="25"/></g>
<g id="n-k2"><circle class="k" cx="1316" cy="1254" r="28"/></g>
<g id="n-k3"><circle class="k" cx="1434" cy="1244" r="25"/></g>
<g id="n-k4"><circle class="k" cx="1233" cy="1297" r="25"/></g>
<g id="n-k5"><circle class="k" cx="1434" cy="1305" r="25"/></g>
<g id="n-k6"><circle class="k" cx="1332" cy="1376" r="25"/></g>
<g id="n-k7"><circle class="k" cx="1494" cy="1524" r="25"/></g>
<g id="n-k8"><circle class="k" cx="1670" cy="1524" r="28"/></g>
<g id="n-k10"><circle class="k" cx="1450" cy="1661" r="35"/></g>
<g id="n-k11"><circle class="k" cx="1829" cy="1794" r="25"/></g>
<g id="n-k12"><circle class="k" cx="2212" cy="1211" r="52"/></g>
<g id="n-a1"><circle class="a" cx="1380" cy="1007" r="25"/></g>
<g id="n-a3"><circle class="a" cx="1214" cy="1494" r="32"/></g>
<g id="n-a4"><circle class="a" cx="1919" cy="1494" r="40"/></g>
<g id="n-a5"><circle class="a" cx="906" cy="1618" r="30"/></g>
<g id="n-a8"><circle class="a" cx="1896" cy="1784" r="32"/></g>
<g id="n-a9"><circle class="a" cx="1993" cy="1804" r="26"/></g>
<g id="n-a11"><circle class="a" cx="1274" cy="1878" r="30"/></g>
<g id="n-a12"><circle class="a" cx="931" cy="1927" r="25"/></g>
<g id="n-a13"><circle class="a" cx="874" cy="1962" r="30"/></g>
<g id="n-a15"><circle class="a" cx="963" cy="2026" r="38"/></g>
<g id="n-a16"><circle class="a" cx="1427" cy="2006" r="30"/></g>
<g id="n-a17"><circle class="a" cx="1367" cy="2044" r="25"/></g>
<g id="n-y3"><circle class="y" cx="1893" cy="902" r="28"/></g>
<g id="n-y4"><circle class="y" cx="2063" cy="861" r="38"/></g>
<g id="n-y7"><circle class="y" cx="2446" cy="950" r="26"/></g>
<g id="n-y9"><circle class="y" cx="1993" cy="1047" r="30"/></g>
<g id="n-y10"><circle class="y" cx="2229" cy="1086" r="30"/></g>
<g id="n-y11"><circle class="y" cx="1555" cy="1185" r="28"/></g>
<g id="n-o1"><circle class="o" cx="2183" cy="1050" r="45"/></g>
<g id="n-o3"><circle class="o" cx="2686" cy="1274" r="24"/></g>
<g id="n-o4"><circle class="o" cx="2344" cy="1409" r="30"/></g>
<g id="n-o5"><circle class="o" cx="2420" cy="1438" r="28"/></g>
<g id="n-o7"><circle class="o" cx="2564" cy="1610" r="25"/></g>
<g id="n-o8"><circle class="o" cx="2152" cy="1651" r="34"/></g>
<g id="n-o9"><circle class="o" cx="2095" cy="1677" r="30"/></g>
<g id="n-o10"><circle class="o" cx="2529" cy="1702" r="32"/></g>
<g id="n-o12"><circle class="o" cx="2273" cy="1863" r="35"/></g>
<g id="n-o13"><circle class="o" cx="2155" cy="1937" r="34"/></g>
<g id="n-o14"><circle class="o" cx="2369" cy="1950" r="27"/></g>
<g id="n-o15"><circle class="o" cx="1836" cy="1932" r="30"/></g>
<g id="n-s1"><circle class="s" cx="2535" cy="1845" r="27"/></g>
<g id="n-s3"><circle class="s" cx="2334" cy="2072" r="28"/></g>
<g id="n-s7"><circle class="s" cx="1619" cy="2301" r="25"/></g>
<g id="n-l1"><circle class="l" cx="2525" cy="1445" r="30"/></g>
<!-- labeled nodes -->
<g id="n-road-capacity"><circle class="c" cx="2082" cy="41" r="21"/><text class="t52" x="2081" y="56">road capacity</text></g>
<g id="n-efficiency"><circle class="c" cx="1846" cy="146" r="22"/><text class="t52" x="1844" y="153">efficiency</text></g>
<g id="n-second-best-pricing"><circle class="c" cx="2254" cy="138" r="22"/><text class="t52" x="2251" y="153">second-best pricing</text></g>
<g id="n-road-pricing-reform"><circle class="g" cx="1029" cy="216" r="18"/><text class="t52" x="1031" y="232">road pricing reform</text></g>
<g id="n-hot-lanes"><circle class="b" cx="1733" cy="275" r="24"/><text class="t52" x="1732" y="286">hot lanes</text></g>
<g id="n-rationing"><circle class="b" cx="2216" cy="316" r="25"/><text class="t52" x="2216" y="326">rationing</text></g>
<g id="n-decision-support"><circle class="b" cx="1545" cy="355" r="23"/><text class="t52" x="1545" y="365">decision support</text></g>
<g id="n-heterogeneity"><circle class="c" cx="2280" cy="449" r="27"/><text class="t57" x="2283" y="467">heterogeneity</text></g>
<g id="n-pareto-improvement"><circle class="b" cx="2583" cy="538" r="25"/><text class="t52" x="2584" y="551">pareto improvement</text></g>
<g id="n-stated-choice"><circle class="g" cx="1236" cy="597" r="27"/><text class="t52" x="1236" y="609">stated choice</text></g>
<g id="n-externality"><circle class="b" cx="2739" cy="638" r="25"/><text class="t52" x="2737" y="643">externality</text></g>
<g id="n-bottleneck-model"><circle class="c" cx="2337" cy="648" r="51"/><text class="t61" x="2315" y="660">bottleneck model</text></g>
<g id="n-acceptability"><circle class="g" cx="1166" cy="469" r="48"/><text class="t70" x="1159" y="490">acceptability</text></g>
<g id="n-equity"><circle class="b" cx="1733" cy="474" r="48"/><text class="t66" x="1732" y="490">equity</text></g>
<g id="n-elasticity"><circle class="g" cx="788" cy="745" r="24"/><text class="t52" x="783" y="755">elasticity</text></g>
<g id="n-transport-policy"><circle class="g" cx="1156" cy="785" r="45"/><text class="t66" x="1155" y="815">transport policy</text></g>
<g id="n-stated-preference"><circle class="y" cx="1842" cy="800" r="32"/><text class="t61" x="1838" y="822">stated preference</text></g>
<g id="n-network-design"><circle class="y" cx="2506" cy="889" r="40"/><text class="t61" x="2491" y="907">network design</text></g>
<g id="n-tolling"><circle class="g" cx="1070" cy="917" r="28"/><text class="t57" x="1075" y="925">tolling</text></g>
<g id="n-route-choice"><circle class="y" cx="1622" cy="930" r="30"/><text class="t57" x="1624" y="948">route choice</text></g>
<g id="n-mode-choice"><circle class="y" cx="1986" cy="945" r="40"/><text class="t61" x="1979" y="963">mode choice</text></g>
<g id="n-bi-level-optimization"><circle class="y" cx="2643" cy="979" r="24"/><text class="t52" x="2637" y="989">bi-level optimization</text></g>
<g id="n-tolls"><circle class="g" cx="973" cy="1001" r="38"/><text class="t61" x="970" y="1017">tolls</text></g>
<g id="n-transport-planning"><circle class="p" cx="357" cy="1119" r="52"/><text class="t70" x="352" y="1139">transport planning</text></g>
<g id="n-externalities"><circle class="r" cx="1025" cy="1091" r="34"/><text class="t57" x="1025" y="1109">externalities</text></g>
<g id="n-transportation-networks"><circle class="a" cx="823" cy="1259" r="28"/><text class="t57" x="818" y="1274">transportation networks</text></g>
<g id="n-morning-commute"><circle class="o" cx="2404" cy="1277" r="24"/><text class="t52" x="2406" y="1292">morning commute</text></g>
<g id="n-sustainability"><circle class="r" cx="1526" cy="1338" r="34"/><text class="t57" x="1528" y="1356">sustainability</text></g>
<g id="n-dynamic-pricing"><circle class="c" cx="2146" cy="1361" r="25"/><text class="t57" x="2153" y="1379">dynamic pricing</text></g>
<g id="n-travel-demand-management"><circle class="r" cx="1437" cy="1453" r="42"/><text class="t66" x="1446" y="1468">travel demand management</text></g>
<g id="n-urban"><circle class="r" cx="1555" cy="1565" r="20"/><text class="t52" x="1560" y="1568">urban</text></g>
<g id="n-tradable-credits"><circle class="k" cx="1823" cy="1555" r="26"/><text class="t52" x="1849" y="1570">tradable credits</text></g>
<g id="n-parking"><circle class="o" cx="2478" cy="1562" r="30"/><text class="t57" x="2477" y="1588">parking</text></g>
<g id="n-air-pollution"><circle class="r" cx="1226" cy="1590" r="46"/><text class="t66" x="1230" y="1605">air pollution</text></g>
<g id="n-traffic-equilibrium"><circle class="l" cx="2241" cy="1695" r="45"/><text class="t61" x="2225" y="1712">traffic equilibrium</text></g>
<g id="n-internet"><circle class="a" cx="1536" cy="1766" r="30"/><text class="t57" x="1534" y="1784">internet</text></g>
<g id="n-congestion-management"><circle class="a" cx="951" cy="1786" r="52"/><text class="t70" x="941" y="1812">congestion management</text></g>
<g id="n-stochastic-user-equilibrium"><circle class="o" cx="2458" cy="1817" r="42"/><text class="t61" x="2441" y="1837">stochastic user equilibrium</text></g>
<g id="n-networks"><circle class="a" cx="1731" cy="1858" r="30"/><text class="t57" x="1733" y="1876">networks</text></g>
<g id="n-electricity-markets"><circle class="a" cx="1041" cy="1980" r="38"/><text class="t61" x="1032" y="2006">electricity markets</text></g>
<g id="n-convergence"><circle class="s" cx="2529" cy="1985" r="27"/><text class="t52" x="2528" y="1998">convergence</text></g>
<g id="n-optimization"><circle class="s" cx="1877" cy="1993" r="40"/><text class="t61" x="1873" y="2013">optimization</text></g>
<g id="n-financial-transmission-rights"><circle class="a" cx="1022" cy="2085" r="30"/><text class="t57" x="1029" y="2103">financial transmission rights</text></g>
<g id="n-genetic-algorithm"><circle class="s" cx="2267" cy="2121" r="34"/><text class="t61" x="2260" y="2138">genetic algorithm</text></g>
<g id="n-congestion-control"><circle class="s" cx="1689" cy="2228" r="47"/><text class="t66" x="1690" y="2243">congestion control</text></g>
<g id="n-cross-layer-design"><circle class="s" cx="1695" cy="2350" r="25"/><text class="t52" x="1693" y="2355">cross-layer design</text></g>
<!-- nodes under the main node -->
<g id="n-c25"><circle class="c" cx="1700" cy="995" r="50"/></g>
<g id="n-c26"><circle class="c" cx="1823" cy="1014" r="45"/></g>
<g id="n-t1"><circle class="t" cx="1734" cy="1193" r="34"/></g>
<g id="n-t2"><circle class="t" cx="1829" cy="1254" r="34"/></g>
<g id="n-congestion-pricing"><circle class="m" cx="1815" cy="1132" r="165" fill-opacity=".86"/><text class="t125" x="1812" y="1152">congestion pricing</text></g>
</svg>
